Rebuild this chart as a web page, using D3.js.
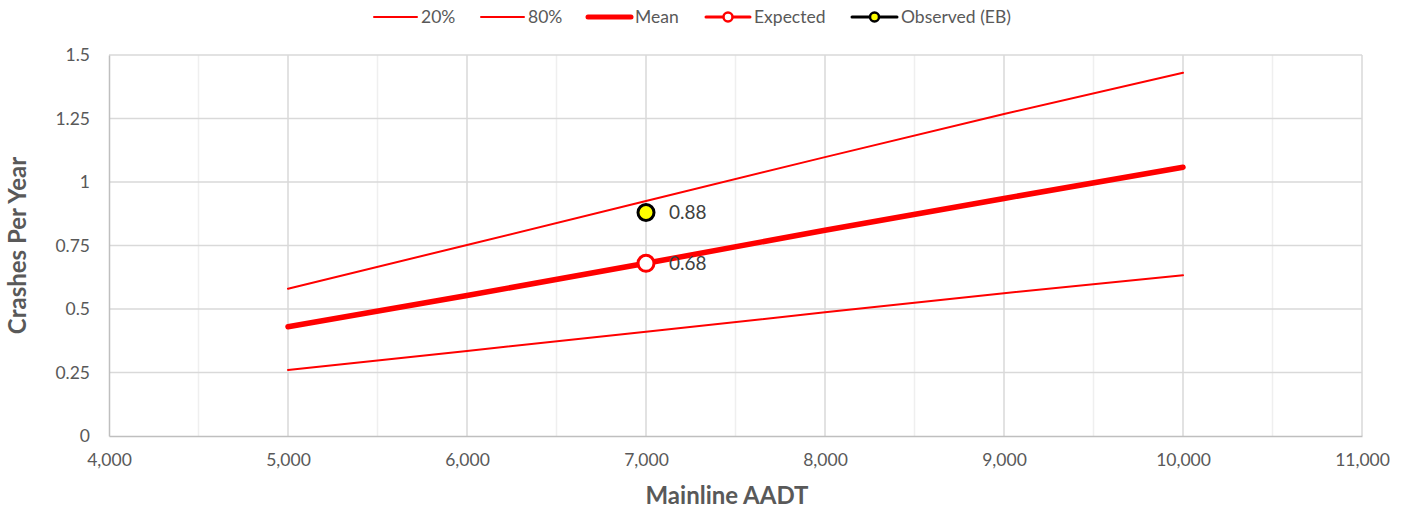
<!DOCTYPE html>
<html>
<head>
<meta charset="utf-8">
<script src="https://cdn.jsdelivr.net/npm/d3@7"></script>
<style>
  body { margin: 0; background: #fff; }
  svg text { font-family: Lato, "Open Sans", sans-serif; fill: #595959; }
</style>
</head>
<body>
<svg id="canvas" width="1408" height="508"></svg>
<script>
// data
var aadt = [5000, 6000, 7000, 8000, 9000, 10000];
var p20 = [0.26, 0.335, 0.41, 0.487, 0.562, 0.633];
var p80 = [0.58, 0.752, 0.925, 1.098, 1.268, 1.43];
var mean = [0.43, 0.553, 0.68, 0.81, 0.935, 1.058];
var expected = [{ x: 7000, y: 0.68, label: '0.68' }];
var observed = [{ x: 7000, y: 0.88, label: '0.88' }];
var yTicks = [0, 0.25, 0.5, 0.75, 1, 1.25, 1.5];
var xTicks = [4000, 5000, 6000, 7000, 8000, 9000, 10000, 11000];

var svg = d3.select('#canvas');

var x = d3.scaleLinear().domain([4000, 11000]).range([109, 1362]);
var y = d3.scaleLinear().domain([0, 1.5]).range([436, 55]);

// minor vertical grid
svg.append('g')
    .selectAll('line')
    .data(d3.range(4500, 11000, 1000))
    .enter()
    .append('line')
    .attr('x1', function(d) { return x(d); })
    .attr('x2', function(d) { return x(d); })
    .attr('y1', y(0))
    .attr('y2', y(1.5))
    .style('stroke', '#efefef')
    .style('stroke-width', 1.5);

// major grid
svg.append('g')
    .selectAll('line')
    .data(xTicks.slice(1))
    .enter()
    .append('line')
    .attr('x1', function(d) { return x(d); })
    .attr('x2', function(d) { return x(d); })
    .attr('y1', y(0))
    .attr('y2', y(1.5))
    .style('stroke', '#d9d9d9')
    .style('stroke-width', 1.5);

svg.append('g')
    .selectAll('line')
    .data(yTicks.slice(1))
    .enter()
    .append('line')
    .attr('x1', x(4000))
    .attr('x2', x(11000))
    .attr('y1', function(d) { return y(d); })
    .attr('y2', function(d) { return y(d); })
    .style('stroke', '#d9d9d9')
    .style('stroke-width', 1.5);

// axes
var xAxis = svg.append('g')
    .attr('transform', 'translate(0,' + y(0) + ')')
    .call(d3.axisBottom(x).tickValues(xTicks).tickSize(0).tickPadding(18).tickFormat(d3.format(',')));
var yAxis = svg.append('g')
    .attr('transform', 'translate(' + x(4000) + ',0)')
    .call(d3.axisLeft(y).tickValues(yTicks).tickSize(0).tickPadding(19).tickFormat(function(d) { return String(d); }));

[xAxis, yAxis].forEach(function(a) {
    a.select('.domain').style('stroke', '#bfbfbf').style('stroke-width', 1.5);
    a.selectAll('text').style('font-family', 'Lato, sans-serif').style('font-size', '17.5px').style('fill', '#595959');
});

// axis titles
svg.append('text')
    .attr('x', 727)
    .attr('y', 504)
    .attr('text-anchor', 'middle')
    .style('font-size', '24px')
    .style('font-weight', 'bold')
    .text('Mainline AADT');

svg.append('text')
    .attr('transform', 'translate(26,' + y(0.75) + ') rotate(-90)')
    .attr('text-anchor', 'middle')
    .style('font-size', '24px')
    .style('font-weight', 'bold')
    .text('Crashes Per Year');

// lines
var line = d3.line()
    .x(function(d) { return x(d[0]); })
    .y(function(d) { return y(d[1]); });

function series(vals, w) {
    svg.append('path')
        .datum(d3.zip(aadt, vals))
        .attr('d', line)
        .style('fill', 'none')
        .style('stroke', '#ff0000')
        .style('stroke-width', w)
        .style('stroke-linecap', 'round')
        .style('stroke-linejoin', 'round');
}
series(p20, 2);
series(p80, 2);
series(mean, 5.5);

// points
function points(data, fill, stroke) {
    svg.append('g')
        .selectAll('circle')
        .data(data)
        .enter()
        .append('circle')
        .attr('cx', function(d) { return x(d.x); })
        .attr('cy', function(d) { return y(d.y); })
        .attr('r', 8)
        .style('fill', fill)
        .style('stroke', stroke)
        .style('stroke-width', 3);
    svg.append('g')
        .selectAll('text')
        .data(data)
        .enter()
        .append('text')
        .attr('x', function(d) { return x(d.x) + 23; })
        .attr('y', function(d) { return y(d.y) + 7; })
        .style('font-size', '19px')
        .style('fill', '#404040')
        .text(function(d) { return d.label; });
}
points(expected, '#ffffff', '#ff0000');
points(observed, '#ffff00', '#000000');

// legend
var legend = [
    { name: '20%', x: 374, len: 43, w: 2, color: '#ff0000' },
    { name: '80%', x: 481, len: 43, w: 2, color: '#ff0000' },
    { name: 'Mean', x: 588, len: 43, w: 5, color: '#ff0000' },
    { name: 'Expected', x: 706, len: 44, w: 3, color: '#ff0000', marker: '#ffffff' },
    { name: 'Observed (EB)', x: 852, len: 45, w: 3, color: '#000000', marker: '#ffff00' }
];
var lg = svg.append('g').selectAll('g').data(legend).enter().append('g');
lg.append('line')
    .attr('x1', function(d) { return d.x; })
    .attr('x2', function(d) { return d.x + d.len; })
    .attr('y1', 17)
    .attr('y2', 17)
    .style('stroke', function(d) { return d.color; })
    .style('stroke-width', function(d) { return d.w; })
    .style('stroke-linecap', 'round');
lg.filter(function(d) { return d.marker; })
    .append('circle')
    .attr('cx', function(d) { return d.x + d.len / 2; })
    .attr('cy', 17)
    .attr('r', 4.5)
    .style('fill', function(d) { return d.marker; })
    .style('stroke', function(d) { return d.color; })
    .style('stroke-width', 2.5);
lg.append('text')
    .attr('x', function(d) { return d.x + d.len + 4; })
    .attr('y', 23)
    .style('font-size', '17.5px')
    .text(function(d) { return d.name; });
</script>
</body>
</html>
